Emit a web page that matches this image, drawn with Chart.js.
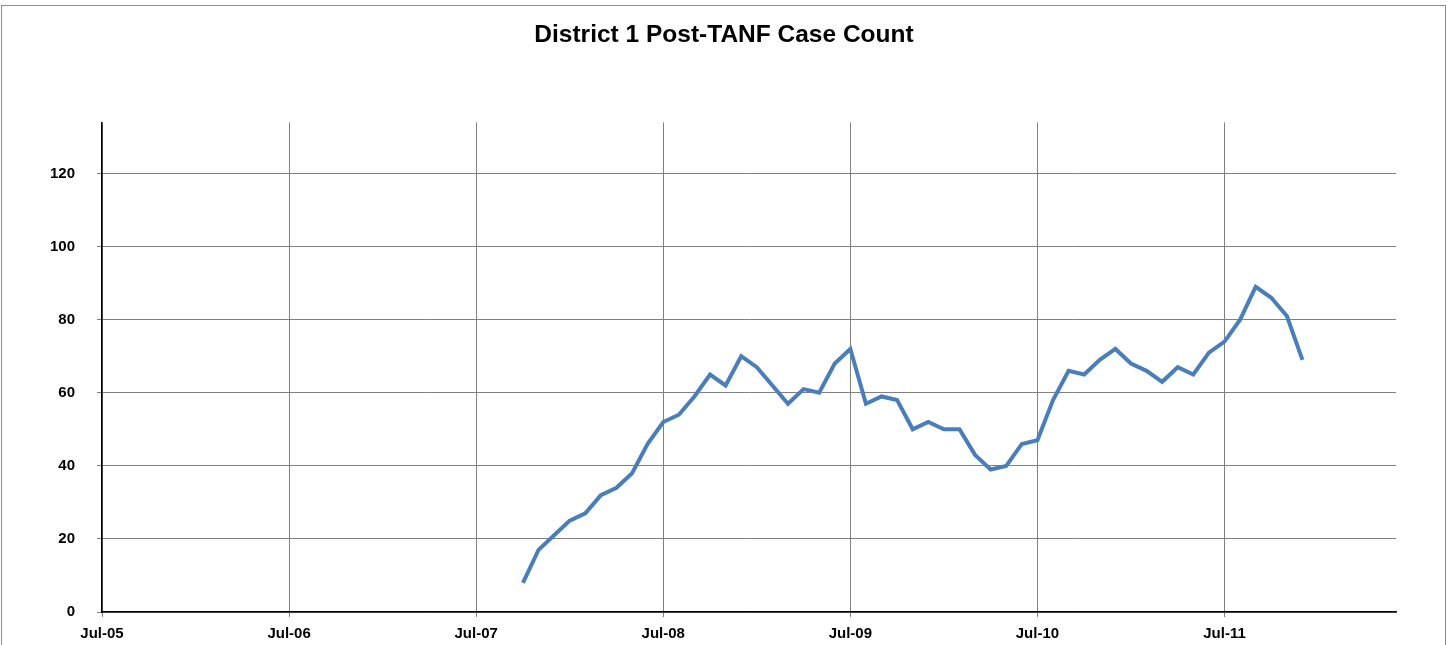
<!DOCTYPE html>
<html>
<head>
<meta charset="utf-8">
<script src="https://cdn.jsdelivr.net/npm/chart.js@4"></script>
<style>
  html, body { margin: 0; padding: 0; background: #fff; }
  #wrap { width: 1448px; height: 645px; }
</style>
</head>
<body>
<div id="wrap"><canvas id="myChart"></canvas></div>
<script>
const chartTitle = "District 1 Post-TANF Case Count";

// months with a case count
const months = [
  "Oct-07", "Nov-07", "Dec-07", "Jan-08", "Feb-08", "Mar-08", "Apr-08", "May-08", "Jun-08",
  "Jul-08", "Aug-08", "Sep-08", "Oct-08", "Nov-08", "Dec-08", "Jan-09", "Feb-09", "Mar-09",
  "Apr-09", "May-09", "Jun-09", "Jul-09", "Aug-09", "Sep-09", "Oct-09", "Nov-09", "Dec-09",
  "Jan-10", "Feb-10", "Mar-10", "Apr-10", "May-10", "Jun-10", "Jul-10", "Aug-10", "Sep-10",
  "Oct-10", "Nov-10", "Dec-10", "Jan-11", "Feb-11", "Mar-11", "Apr-11", "May-11", "Jun-11",
  "Jul-11", "Aug-11", "Sep-11", "Oct-11", "Nov-11", "Dec-11"
];
const cases = [
  8, 17, 21, 25, 27, 32, 34, 38, 46,
  52, 54, 59, 65, 62, 70, 67, 62, 57,
  61, 60, 68, 72, 57, 59, 58, 50, 52,
  50, 50, 43, 39, 40, 46, 47, 58, 66,
  65, 69, 72, 68, 66, 63, 67, 65, 71,
  74, 80, 89, 86, 81, 69
];

// x axis: Jul-05 .. Jun-12, labels every July
const axisStart = "Jul-05";
const axisEnd = "Jun-12";
const yTicks = [0, 20, 40, 60, 80, 100, 120];
const yMax = 134;

const monthNames = ["Jan", "Feb", "Mar", "Apr", "May", "Jun", "Jul", "Aug", "Sep", "Oct", "Nov", "Dec"];

function monthIndex(label) {
  const parts = label.split("-");
  return (2000 + parseInt(parts[1])) * 12 + monthNames.indexOf(parts[0]);
}
function monthLabel(idx) {
  const y = Math.floor(idx / 12);
  return monthNames[idx % 12] + "-" + String(y % 100).padStart(2, "0");
}

const x0 = monthIndex(axisStart);
const points = months.map((m, i) => ({ x: monthIndex(m) - x0, y: cases[i] }));

const frame = {
  id: "frame",
  beforeDraw(chart) {
    const c = chart.ctx;
    c.save();
    c.strokeStyle = "#8c8c8c";
    c.lineWidth = 1;
    c.strokeRect(1.5, 5.5, 1444, 660);
    c.restore();
  },
};

const tickFont = { family: "Liberation Sans, Arial, sans-serif", size: 15, weight: "bold" };

const ctx = document.getElementById("myChart");

const myChart = new Chart(ctx, {
  type: "line",
  data: {
    datasets: [
      {
        label: "Cases",
        data: points,
        borderColor: "#4a7ebb",
        borderWidth: 4,
        pointRadius: 0,
        tension: 0,
      },
    ],
  },
  options: {
    responsive: true,
    maintainAspectRatio: false,
    animation: false,
    layout: {
      padding: 0,
    },
    plugins: {
      legend: false,
      tooltip: { enabled: false },
      title: {
        display: true,
        text: chartTitle,
        color: "#000",
        font: { family: "Liberation Sans, Arial, sans-serif", size: 24.5, weight: "bold" },
        padding: { top: 21, bottom: 72 },
      },
    },
    scales: {
      x: {
        type: "linear",
        min: 0,
        max: monthIndex(axisEnd) - x0,
        afterFit(scale) { scale.height = 33; },
        border: { color: "#000", width: 1.5 },
        grid: { color: "#808080", lineWidth: 1, tickLength: 5 },
        ticks: {
          stepSize: 12,
          includeBounds: false,
          autoSkip: false,
          maxRotation: 0,
          padding: 8,
          color: "#000",
          font: tickFont,
        },
      },
      y: {
        min: 0,
        max: yMax,
        afterFit(scale) { scale.width = 102; },
        afterBuildTicks(scale) { scale.ticks = yTicks.map((v) => ({ value: v })); },
        border: { color: "#000", width: 1.5 },
        grid: { color: "#808080", lineWidth: 1, tickLength: 5 },
        ticks: {
          padding: 22,
          color: "#000",
          font: tickFont,
        },
      },
      // empty right margin so the title stays centred on the page
      right: {
        position: "right",
        display: true,
        afterFit(scale) { scale.width = 52; },
        grid: { display: false },
        border: { display: false },
        ticks: { display: false },
      },
    },
  },
  plugins: [frame],
});
myChart.options.scales.x.ticks.callback = (v) => monthLabel(x0 + v);
myChart.update();
</script>
</body>
</html>
